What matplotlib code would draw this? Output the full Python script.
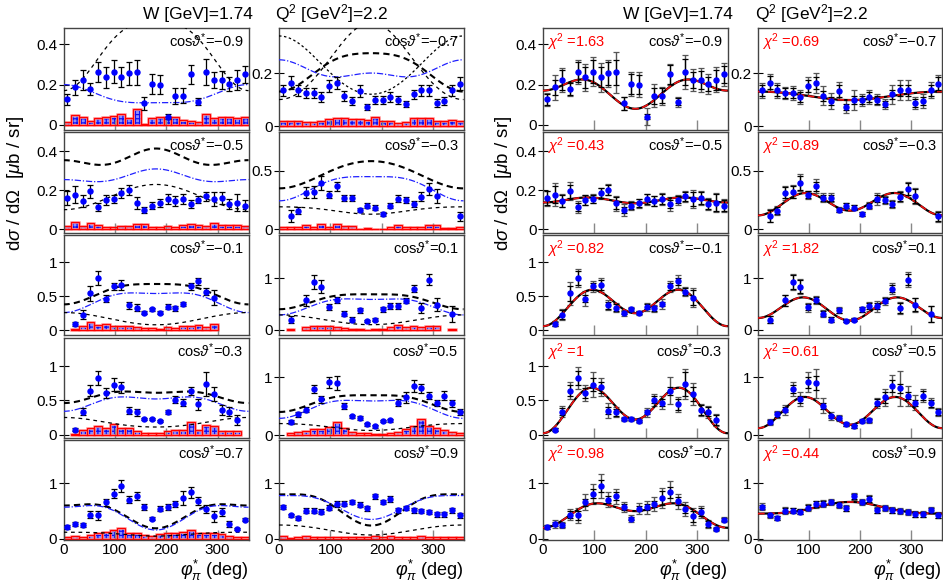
import numpy as np
import matplotlib
matplotlib.use('Agg')
import matplotlib.pyplot as plt

plt.rcParams['font.family'] = ['Liberation Sans', 'DejaVu Sans']
plt.rcParams['mathtext.fontset'] = 'custom'
plt.rcParams['mathtext.rm'] = 'Liberation Sans'
plt.rcParams['mathtext.it'] = 'Liberation Sans:italic'
plt.rcParams['hatch.linewidth'] = 0.9

nan = np.nan
phi = np.arange(7.5, 360, 15)          # bin centres, deg

# --- data: d sigma / d Omega (mub/sr), stat. error, syst. error ---
y_m09 = [0.127, 0.187, 0.223, 0.177, 0.264, 0.235, 0.264, 0.236, 0.256, 0.26, 0.107, 0.203,
         0.2, 0.04, 0.145, 0.145, 0.251, 0.114, 0.261, 0.223, 0.223, 0.203, 0.223, 0.251]
e_m09 = [0.027, 0.037, 0.048, 0.03, 0.05, 0.054, 0.058, 0.05, 0.058, 0.064, 0.033, 0.048,
         0.048, 0.012, 0.04, 0.036, 0.047, 0.017, 0.064, 0.041, 0.045, 0.033, 0.05, 0.041]
s_m09 = [0.017, 0.05, 0.038, 0.02, 0.033, 0.038, 0.045, 0.053, 0.033, 0.078, 0.005, 0.036,
         0.038, 0.04, 0.041, 0.025, 0.02, 0.017, 0.053, 0.036, 0.038, 0.038, 0.036, 0.038]

y_m07 = [0.135, 0.164, 0.135, 0.125, 0.125, 0.11, 0.15, 0.163, 0.114, 0.094, 0.133, 0.073,
         0.098, 0.098, 0.11, 0.1, 0.083, 0.119, 0.135, 0.135, 0.088, 0.094, 0.135, 0.16]
e_m07 = [0.02, 0.025, 0.02, 0.018, 0.02, 0.018, 0.022, 0.022, 0.02, 0.015, 0.022, 0.012,
         0.015, 0.015, 0.018, 0.015, 0.012, 0.018, 0.02, 0.02, 0.015, 0.015, 0.02, 0.025]
s_m07 = [0.02, 0.02, 0.02, 0.015, 0.015, 0.018, 0.025, 0.032, 0.03, 0.025, 0.025, 0.022,
         0.035, 0.018, 0.02, 0.012, 0.015, 0.032, 0.032, 0.032, 0.018, 0.02, 0.022, 0.02]

y_m05 = [0.159, 0.178, 0.145, 0.194, 0.113, 0.151, 0.156, 0.185, 0.203, 0.133, 0.099, 0.121,
         0.133, 0.154, 0.145, 0.154, 0.13, 0.151, 0.168, 0.156, 0.159, 0.13, 0.137, 0.121]
e_m05 = [0.035, 0.045, 0.03, 0.035, 0.02, 0.025, 0.02, 0.025, 0.025, 0.03, 0.015, 0.02,
         0.02, 0.025, 0.025, 0.025, 0.02, 0.018, 0.025, 0.035, 0.03, 0.025, 0.045, 0.03]
s_m05 = [0.015, 0.035, 0.015, 0.03, 0.022, 0.01, 0.01, 0.015, 0.015, 0.025, 0.025, 0.012,
         0.012, 0.015, 0.012, 0.02, 0.028, 0.02, 0.015, 0.03, 0.02, 0.02, 0.02, 0.015]

y_m03 = [nan, 0.116, 0.161, 0.313, 0.322, 0.399, 0.294, 0.368, 0.271, 0.271, 0.167, 0.202,
         0.186, 0.133, 0.202, 0.26, 0.251, 0.217, 0.279, 0.342, 0.285, nan, nan, 0.111]
e_m03 = [nan, 0.05, 0.03, 0.045, 0.05, 0.06, 0.03, 0.04, 0.025, 0.025, 0.02, 0.02,
         0.02, 0.015, 0.02, 0.03, 0.025, 0.025, 0.04, 0.05, 0.06, nan, nan, 0.04]
s_m03 = [0.02, 0.023, 0.023, 0.037, 0.023, 0.045, 0.023, 0.045, 0.03, 0.03, 0.003, 0.012,
         0.003, 0.003, 0.023, 0.04, 0.023, 0.023, 0.023, 0.037, 0.037, 0.01, 0.01, 0.02]

y_m01 = [nan, 0.097, 0.231, 0.545, 0.764, 0.465, 0.644, 0.664, 0.366, 0.331, 0.256, 0.306,
         0.256, 0.346, 0.321, 0.381, 0.644, 0.719, 0.565, 0.48, nan, nan, nan, nan]
e_m01 = [nan, 0.03, 0.06, 0.11, 0.1, 0.05, 0.05, 0.07, 0.05, 0.05, 0.02, 0.025,
         0.02, 0.04, 0.04, 0.03, 0.05, 0.05, 0.05, 0.11, nan, nan, nan, nan]
s_m01 = [nan, 0.017, 0.057, 0.127, 0.082, 0.097, 0.057, 0.067, 0.057, 0.047, 0.037, 0.027,
         0.017, 0.047, 0.037, 0.067, 0.057, 0.082, 0.047, 0.092, nan, nan, nan, nan]

y_p01 = [nan, 0.2, nan, 0.57, 0.93, 0.84, 0.44, 0.575, 0.31, 0.2, 0.38, 0.167,
         0.2, 0.395, 0.455, 0.46, 0.565, 0.8, 0.43, 0.975, 0.49, nan, 0.31, nan]
e_p01 = [nan, 0.07, nan, 0.1, 0.13, 0.12, 0.06, 0.06, 0.05, 0.04, 0.05, 0.02,
         0.03, 0.05, 0.06, 0.06, 0.05, 0.07, 0.1, 0.11, 0.12, nan, 0.15, nan]
s_p01 = [nan, 0.026, nan, 0.05, 0.07, 0.084, 0.065, 0.05, 0.045, 0.02, 0.026, 0.006,
         0.02, 0.026, 0.058, 0.09, 0.058, 0.078, 0.058, 0.084, 0.065, nan, 0.015, nan]

y_p03 = [nan, 0.074, 0.335, 0.64, 0.828, 0.606, 0.729, 0.69, 0.35, 0.325, 0.227, 0.227,
         0.197, 0.325, 0.507, 0.468, 0.64, 0.443, 0.739, 0.591, 0.36, 0.335, 0.212, nan]
e_p03 = [nan, 0.02, 0.05, 0.08, 0.1, 0.07, 0.1, 0.08, 0.05, 0.05, 0.02, 0.02,
         0.02, 0.03, 0.05, 0.05, 0.06, 0.08, 0.17, 0.1, 0.07, 0.07, 0.07, nan]
s_p03 = [nan, 0.01, 0.06, 0.09, 0.123, 0.1, 0.148, 0.103, 0.1, 0.05, 0.03, 0.025,
         0.025, 0.054, 0.07, 0.074, 0.187, 0.074, 0.138, 0.128, 0.054, 0.05, 0.054, nan]

y_p05 = [nan, 0.227, 0.36, 0.442, 0.797, 0.622, 0.913, 0.895, 0.506, 0.326, 0.297, 0.186,
         0.151, 0.244, 0.256, 0.558, 0.651, 0.849, 0.808, 0.68, 0.558, 0.68, 0.55, 0.4]
e_p05 = [nan, 0.04, 0.04, 0.05, 0.07, 0.06, 0.1, 0.12, 0.05, 0.03, 0.03, 0.02,
         0.02, 0.02, 0.03, 0.06, 0.1, 0.1, 0.08, 0.06, 0.05, 0.08, 0.06, 0.06]
s_p05 = [nan, 0.03, 0.05, 0.07, 0.1, 0.1, 0.14, 0.227, 0.12, 0.06, 0.04, 0.03,
         0.02, 0.02, 0.03, 0.06, 0.1, 0.16, 0.285, 0.16, 0.12, 0.08, 0.06, 0.04]

y_p07 = [0.212, 0.273, 0.255, 0.436, 0.424, 0.66, 0.812, 0.952, 0.709, 0.77, 0.57, 0.364,
         0.545, 0.57, 0.63, 0.739, 0.842, 0.679, 0.539, 0.406, 0.479, 0.273, 0.182, 0.345]
e_p07 = [0.03, 0.04, 0.04, 0.06, 0.08, 0.06, 0.08, 0.1, 0.07, 0.07, 0.05, 0.03,
         0.04, 0.05, 0.06, 0.12, 0.1, 0.07, 0.07, 0.1, 0.07, 0.05, 0.02, 0.03]
s_p07 = [0.03, 0.055, 0.03, 0.073, 0.103, 0.127, 0.164, 0.194, 0.115, 0.115, 0.073, 0.06,
         0.085, 0.103, 0.115, 0.127, 0.164, 0.115, 0.103, 0.115, 0.085, 0.055, 0.03, 0.03]

y_p09 = [0.576, 0.424, 0.378, 0.51, 0.51, 0.49, 0.565, 0.624, 0.635, 0.667, 0.618, 0.548,
         0.764, 0.667, 0.715, 0.515, 0.552, 0.515, 0.5, 0.485, 0.442, 0.442, 0.515, 0.424]
e_p09 = [0.04, 0.03, 0.03, 0.04, 0.04, 0.04, 0.04, 0.05, 0.05, 0.04, 0.04, 0.04,
         0.05, 0.04, 0.05, 0.04, 0.04, 0.04, 0.04, 0.03, 0.04, 0.04, 0.04, 0.04]
s_p09 = [0.05, 0.025, 0.03, 0.05, 0.03, 0.03, 0.04, 0.035, 0.035, 0.035, 0.035, 0.035,
         0.05, 0.035, 0.05, 0.04, 0.03, 0.04, 0.045, 0.04, 0.04, 0.035, 0.035, 0.035]

model_thick = {-0.9: None, -0.5: (0.355, 0.335, 0.415), -0.1: (0.38, 0.60, 0.68),
               0.3: (0.46, 0.61, 0.61), 0.7: (0.60, 0.56, 0.19),
               -0.7: (0.13, 0.23, 0.275), -0.3: (0.35, 0.477, 0.582), 0.1: (0.40, 0.62, 0.69),
               0.5: (0.40, 0.62, 0.69), 0.9: (0.80, 0.68, 0.24)}
model_blue = {-0.9: (0.20, 0.13, 0.11), -0.5: (0.255, 0.25, 0.31), -0.1: (0.26, 0.50, 0.54),
              0.3: (0.34, 0.53, 0.52), 0.7: (0.57, 0.54, 0.16),
              -0.7: (0.25, 0.19, 0.20), -0.3: (0.244, 0.40, 0.45), 0.1: (0.29, 0.55, 0.59),
              0.5: (0.29, 0.55, 0.59), 0.9: (0.78, 0.68, 0.35)}
model_thin = {-0.9: (0.17, 0.405, 0.516), -0.5: (0.10, 0.165, 0.23), -0.1: (0.26, 0.17, 0.08),
              0.3: (0.25, 0.17, 0.11), 0.7: (0.12, 0.10, 0.05),
              -0.7: (0.10, 0.23, 0.39), -0.3: (0.193, 0.17, 0.13), 0.1: (0.29, 0.195, 0.10),
              0.5: (0.20, 0.15, 0.08), 0.9: (0.25, 0.17, 0.07)}
model_extra = {-0.7: (0.34, 0.22, 0.12)}
fit_curve = {-0.9: (0.17, 0.22, 0.08), -0.5: (0.137, 0.163, 0.133), -0.1: (0.06, 0.59, 0.25),
             0.3: (0.02, 0.68, 0.22), 0.7: (0.20, 0.62, 0.50),
             -0.7: (0.13, 0.116, 0.098), -0.3: (0.12, 0.31, 0.16), 0.1: (0.23, 0.63, 0.18),
             0.5: (0.12, 0.66, 0.18), 0.9: (0.455, 0.52, 0.665)}
chi2 = {-0.9: '1.63', -0.5: '0.43', -0.1: '0.82', 0.3: '1', 0.7: '0.98',
        -0.7: '0.69', -0.3: '0.89', 0.1: '1.82', 0.5: '0.61', 0.9: '0.44'}

cos_cols = [[-0.9, -0.5, -0.1, 0.3, 0.7], [-0.7, -0.3, 0.1, 0.5, 0.9]]
data = {-0.9: (y_m09, e_m09, s_m09), -0.7: (y_m07, e_m07, s_m07),
        -0.5: (y_m05, e_m05, s_m05), -0.3: (y_m03, e_m03, s_m03),
        -0.1: (y_m01, e_m01, s_m01), 0.1: (y_p01, e_p01, s_p01),
        0.3: (y_p03, e_p03, s_p03), 0.5: (y_p05, e_p05, s_p05),
        0.7: (y_p07, e_p07, s_p07), 0.9: (y_p09, e_p09, s_p09)}
ylims = {-0.9: (-0.025, 0.48), -0.7: (-0.015, 0.37), -0.5: (-0.02, 0.5), -0.3: (-0.03, 0.83),
         -0.1: (-0.07, 1.40), 0.1: (-0.1, 1.84), 0.3: (-0.05, 1.41), 0.5: (-0.05, 1.68),
         0.7: (-0.02, 1.78), 0.9: (-0.02, 1.78)}
yticks = {-0.9: [0, 0.2, 0.4], -0.7: [0, 0.2], -0.5: [0, 0.2, 0.4], -0.3: [0, 0.5],
          -0.1: [0, 0.5, 1], 0.1: [0, 1], 0.3: [0, 0.5, 1], 0.5: [0, 1],
          0.7: [0, 1], 0.9: [0, 1]}

W, H = 943, 584
col_x = [(63.5, 248.5), (279, 463.5), (543, 727.5), (758, 942)]
row_y = [(28, 130), (132, 233), (235, 335), (338, 438), (440, 540)]
phi_f = np.linspace(0, 360, 361)


def curve(p):
    y0, y90, y180 = p
    c = (y0 - y180) / 2
    a = ((y0 + y180) / 2 + y90) / 2
    b = ((y0 + y180) / 2 - y90) / 2
    r = np.radians(phi_f)
    return a + b * np.cos(2 * r) + c * np.cos(r)


fig = plt.figure(figsize=(W / 100, H / 100), dpi=100)

for block in range(2):
    for ci in range(2):
        for ri, cv in enumerate(cos_cols[ci]):
            x0, x1 = col_x[block * 2 + ci]
            yt, yb = row_y[ri]
            ax = fig.add_axes([x0 / W, 1 - yb / H, (x1 - x0) / W, (yb - yt) / H])
            y, e, s = [np.array(v, dtype=float) for v in data[cv]]
            if block == 0:
                ok = ~np.isnan(s)
                # systematic uncertainties: blue checkered boxes with red outline
                ax.bar(phi[ok], s[ok], width=15, color='#8c8cff', hatch='++++',
                       edgecolor='#1010f0', linewidth=0, zorder=1)
                ax.bar(phi[ok], s[ok], width=15, fill=False, edgecolor='#ff9a9a',
                       linewidth=1.8, zorder=1.5)
                ax.bar(phi[ok], s[ok], width=15, fill=False, edgecolor='#ff0000',
                       linewidth=0.9, zorder=2)
                if model_thick[cv] is not None:
                    ax.plot(phi_f, curve(model_thick[cv]), color='black', lw=1.5,
                            ls=(0, (3, 2)), zorder=3)
                ax.plot(phi_f, curve(model_blue[cv]), color='#2020ff', lw=0.9,
                        ls=(0, (5, 1.5, 1, 1.5)), zorder=3)
                ax.plot(phi_f, curve(model_thin[cv]), color='black', lw=0.9,
                        ls=(0, (3, 3)), zorder=3)
                if cv in model_extra:
                    ax.plot(phi_f, curve(model_extra[cv]), color='black', lw=0.9,
                            ls=(0, (2, 2)), zorder=3)
                ax.errorbar(phi, y, yerr=e, fmt='none', ecolor='black', elinewidth=0.9,
                            capsize=2, capthick=0.9, zorder=4)
            else:
                tot = np.sqrt(e ** 2 + np.nan_to_num(s) ** 2)
                ax.errorbar(phi, y, yerr=tot, fmt='none', ecolor='#555555', elinewidth=1.0,
                            capsize=2, capthick=0.9, zorder=3)
                ax.errorbar(phi, y, yerr=e, fmt='none', ecolor='black', elinewidth=0.9,
                            capsize=2, capthick=0.9, zorder=4)
                ax.plot(phi_f, curve(fit_curve[cv]), color='black', lw=1.6, zorder=3.5)
                ax.plot(phi_f, curve(fit_curve[cv]), color='#ee1111', lw=1.2,
                        ls=(0, (4, 2)), zorder=3.6)
                ax.text(0.02, 0.97, r'$\chi^2$ =' + chi2[cv], color='#ff0000', fontsize=10.5,
                        ha='left', va='top', transform=ax.transAxes)
            ax.plot(phi, y, 'o', color='#0000ff', ms=3.6, zorder=5)

            lab = f'{cv:g}'.replace('-', '\u2212')
            ax.text(0.975, 0.97, r'cos$\vartheta^{*}$=' + lab, fontsize=10.5,
                    ha='right', va='top', transform=ax.transAxes)

            ax.set_xlim(0, 360)
            ax.set_ylim(*ylims[cv])
            ax.set_yticks(yticks[cv])
            ax.set_yticklabels([f'{t:g}' for t in yticks[cv]], fontsize=11)
            ax.tick_params(axis='y', direction='inout', length=7, width=0.8, pad=1)
            if ri == 4:
                ax.set_xticks([0, 100, 200, 300])
                ax.set_xticklabels(['0', '100', '200', '300'], fontsize=11)
                ax.text(1.0, -0.3, r'$\varphi_{\pi}^{*}$ (deg)', fontsize=13,
                        ha='right', va='center', transform=ax.transAxes)
            else:
                ax.set_xticks([100, 200, 300])
                ax.set_xticklabels([])
            ax.tick_params(axis='x', direction='in', length=7, width=1.0,
                           color='#888888', pad=2)
            for sp in ax.spines.values():
                sp.set_color('#444444')
                sp.set_linewidth(1.0)

    # block headings and y title
    xo = 0 if block == 0 else 480
    fig.text((198 + xo) / W, 1 - 14 / H, 'W [GeV]=1.74', fontsize=12.5,
             ha='center', va='center')
    fig.text((331 + xo) / W, 1 - 14 / H, r'Q$^2$ [GeV$^2$]=2.2', fontsize=12.5,
             ha='center', va='center')
    fig.text((16 + xo + (7 if block else 0)) / W, 1 - 183 / H,
             r'd$\sigma$ / d$\Omega$  [$\mu$b / sr]', fontsize=13.5,
             rotation=90, ha='center', va='center')

fig.savefig('out.png', dpi=100)
